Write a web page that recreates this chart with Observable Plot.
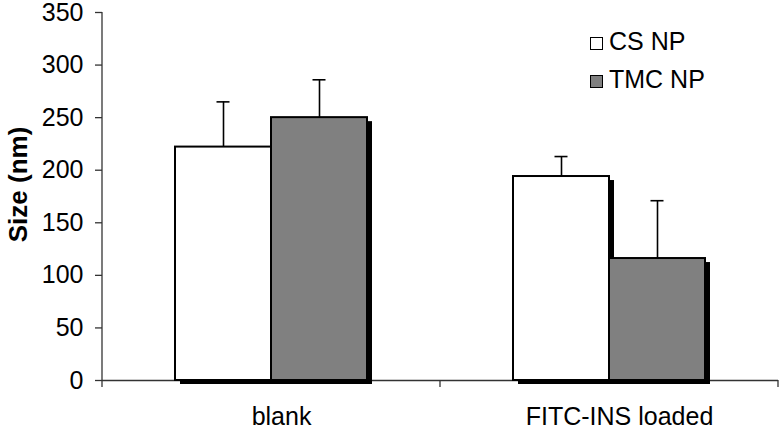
<!DOCTYPE html>
<html>
<head>
<meta charset="utf-8">
<script src="https://cdn.jsdelivr.net/npm/d3@7"></script>
<script src="https://cdn.jsdelivr.net/npm/@observablehq/plot@0.6"></script>
<style>
  html, body { margin: 0; padding: 0; background: #fff; }
  #wrap { position: relative; width: 780px; height: 432px; font-family: "Liberation Sans", Arial, sans-serif; }
  #legend { position: absolute; left: 590px; top: 22px; font-size: 25px; color: #000; }
  #legend .row { height: 38px; line-height: 38px; white-space: nowrap; }
  #legend .sw { display: inline-block; width: 13px; height: 13px; box-sizing: border-box; border: 1.2px solid #000; margin-right: 6px; vertical-align: baseline; }
  g[aria-label="y-axis label"] { font-weight: bold; font-size: 26px; }
</style>
</head>
<body>
<div id="wrap"></div>
<script>
// ---- data ----
const groups = ["blank", "FITC-INS loaded"];
const series = ["CS NP", "TMC NP"];
const csValues = [222, 194];
const csErrors = [43, 19];
const tmcValues = [250, 116];
const tmcErrors = [36, 55];
const yTicks = [0, 50, 100, 150, 200, 250, 300, 350];
const seriesColors = ["#ffffff", "#808080"];

const rows = groups.flatMap((g, i) => [
  {group: g, series: series[0], value: csValues[i], err: csErrors[i]},
  {group: g, series: series[1], value: tmcValues[i], err: tmcErrors[i]}
]);

const plot = Plot.plot({
  width: 780,
  height: 432,
  marginLeft: 101,
  marginRight: 2,
  marginTop: 12,
  marginBottom: 52,
  style: {fontFamily: "'Liberation Sans', Arial, sans-serif", fontSize: "25px", color: "#000", background: "#fff", overflow: "visible"},
  fx: {domain: groups, padding: 0, label: null},
  x: {domain: series, axis: null, paddingInner: 0, paddingOuter: 0.745},
  y: {domain: [0, 350]},
  color: {domain: series, range: seriesColors},
  marks: [
    Plot.axisY({ticks: yTicks, tickSize: 7, tickPadding: 12, stroke: "#333", strokeWidth: 1.3,
      label: "Size (nm)", labelAnchor: "center", labelOffset: 94, labelArrow: "none"}),
    Plot.axisFx({anchor: "bottom", tickSize: 0, tickPadding: 27, dx: 10, label: null}),
    Plot.ruleY([0], {stroke: "#333", strokeWidth: 1.3}),
    Plot.barY(rows, {fx: "group", x: "series", y: "value", fill: "#000", dx: 5, dy: 4}),
    Plot.barY(rows, {fx: "group", x: "series", y: "value", fill: "series", stroke: "#000", strokeWidth: 2}),
    Plot.ruleX(rows, {fx: "group", x: "series", y1: "value", y2: d => d.value + d.err, stroke: "#000", strokeWidth: 1.6}),
    Plot.tickY(rows, {fx: "group", x: "series", y: d => d.value + d.err, insetLeft: 41.5, insetRight: 41.5, stroke: "#000", strokeWidth: 1.6})
  ]
});

document.getElementById("wrap").appendChild(plot);

// shift the y label slightly upward, as in the reference
const lab = d3.select(plot).select('g[aria-label="y-axis label"]');
if (!lab.empty()) lab.attr("transform", ((lab.attr("transform") || "") + " translate(0,-12)").trim());

// axis line and category boundary ticks, from the plot's own scales
const fxs = plot.scale("fx");
const ys = plot.scale("y");
const starts = fxs.domain.map(d => fxs.apply(d));
const bounds = [...starts, starts[starts.length - 1] + fxs.bandwidth];
const y0 = ys.apply(0);
const yTop = ys.apply(ys.domain[1]);
const g = d3.select(plot).append("g").attr("stroke", "#333").attr("stroke-width", 1.3);
g.append("line").attr("x1", bounds[0]).attr("x2", bounds[0]).attr("y1", yTop).attr("y2", y0);
g.selectAll("line.b").data(bounds).join("line").attr("class", "b")
  .attr("x1", d => d).attr("x2", d => d).attr("y1", y0).attr("y2", y0 + 7);

// legend
const legend = d3.select("#wrap").append("div").attr("id", "legend");
series.forEach((s, i) => {
  const row = legend.append("div").attr("class", "row");
  row.append("span").attr("class", "sw").style("background", seriesColors[i]);
  row.append("span").text(s);
});
</script>
</body>
</html>
